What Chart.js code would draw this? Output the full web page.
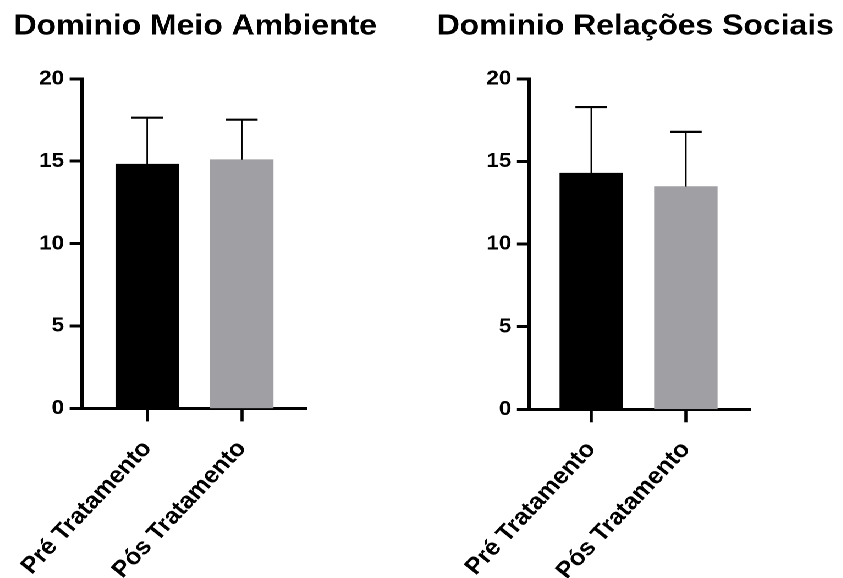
<!DOCTYPE html>
<html>
<head>
<meta charset="utf-8">
<script src="https://cdn.jsdelivr.net/npm/chart.js@4.4.1/dist/chart.umd.min.js"></script>
<style>
  html, body { margin: 0; padding: 0; background: #fff; overflow: hidden; }
  #stage { position: absolute; left: 0; top: 0; width: 766px; height: 578px;
           transform: scaleX(1.1); transform-origin: 0 0; }
  #stage canvas { position: absolute; top: 0; }
</style>
</head>
<body>
<div id="stage">
  <canvas id="meio" width="355" height="578" style="left:0px"></canvas>
  <canvas id="relacoes" width="377" height="578" style="left:389px"></canvas>
</div>
<script>
// Group labels and scores (mean and standard deviation) per domain
const categories = ['Pré Tratamento', 'Pós Tratamento'];
const meioAmbienteMean = [14.82, 15.09];
const meioAmbienteSD = [2.82, 2.43];
const relacoesSociaisMean = [14.29, 13.48];
const relacoesSociaisSD = [4.00, 3.31];
const yTickValues = [0, 5, 10, 15, 20];
const barColors = ['#000000', '#a0a0a4'];

const FONT = "'Liberation Sans', Arial, Helvetica, sans-serif";

// Upper error bars (mean + SD) drawn through the chart's own y scale
const errorBars = {
  id: 'errorBars',
  afterDatasetsDraw(chart, args, opts) {
    const ctx = chart.ctx;
    const yScale = chart.scales.y;
    const meta = chart.getDatasetMeta(0);
    const values = chart.data.datasets[0].data;
    ctx.save();
    ctx.strokeStyle = '#000';
    meta.data.forEach((bar, i) => {
      const top = yScale.getPixelForValue(values[i].y + opts.sd[i]);
      ctx.lineWidth = 1.4;
      ctx.beginPath();
      ctx.moveTo(bar.x, bar.y);
      ctx.lineTo(bar.x, top);
      ctx.stroke();
      ctx.lineWidth = 2.2;
      ctx.beginPath();
      ctx.moveTo(bar.x - opts.capHalf, top);
      ctx.lineTo(bar.x + opts.capHalf, top);
      ctx.stroke();
    });
    ctx.restore();
  }
};

function makeChart(id, title, means, sds, g) {
  return new Chart(document.getElementById(id), {
    type: 'bar',
    data: {
      datasets: [{
        data: means.map((m, i) => ({ x: i, y: m })),
        backgroundColor: barColors,
        borderWidth: 0,
        barThickness: 57,
        yAxisID: 'y'
      }]
    },
    options: {
      responsive: false,
      animation: false,
      devicePixelRatio: 2,
      layout: { padding: 0 },
      plugins: {
        legend: { display: false },
        tooltip: { enabled: false },
        title: {
          display: true,
          text: title,
          color: '#000',
          font: { family: FONT, size: 29, weight: 'bold', lineHeight: 1.2 },
          padding: { top: 9, bottom: 35 }
        },
        errorBars: { sd: sds, capHalf: 14.4 }
      },
      scales: {
        x: {
          type: 'linear',
          min: g.xMin,
          max: g.xMax,
          offset: false,
          z: 1,
          grid: { offset: false, drawOnChartArea: false, drawTicks: true,
                  tickLength: 13, tickWidth: 2.8, tickColor: '#000' },
          border: { display: true, color: '#000', width: 3 },
          afterBuildTicks: s => { s.ticks = categories.map((c, i) => ({ value: i })); },
          afterFit: s => {
            s.height = 578 - g.bottom;
            s.paddingLeft = 0;
            s.paddingRight = 0;
          },
          ticks: {
            autoSkip: false,
            maxRotation: 49,
            minRotation: 49,
            padding: 14,
            color: '#000',
            font: { family: FONT, size: 23, weight: 'bold' },
            callback: v => categories[Math.round(v)]
          }
        },
        y: {
          min: 0,
          max: 20,
          z: 1,
          grid: { drawOnChartArea: false, drawTicks: true,
                  tickLength: 11, tickWidth: 3, tickColor: '#000' },
          border: { display: true, color: '#000', width: 3 },
          afterBuildTicks: s => { s.ticks = yTickValues.map(v => ({ value: v })); },
          afterFit: s => { s.width = g.axisLeft; },
          ticks: {
            padding: 5,
            color: '#000',
            font: { family: FONT, size: 20.5, weight: 'bold' }
          }
        },
        // empty right-hand axis that only reserves the blank space right of the plot
        spacer: {
          type: 'linear',
          position: 'right',
          display: true,
          grid: { display: false, drawTicks: false },
          border: { display: false },
          ticks: { display: false },
          afterFit: s => { s.width = g.rightSpace; }
        }
      }
    },
    plugins: [errorBars]
  });
}

makeChart('meio', 'Dominio Meio Ambiente', meioAmbienteMean, meioAmbienteSD,
  { axisLeft: 74.3, rightSpace: 75.9, xMin: -0.692, xMax: 1.69, bottom: 408.4 });
makeChart('relacoes', 'Dominio Relações Sociais', relacoesSociaisMean, relacoesSociaisSD,
  { axisLeft: 91.9, rightSpace: 84.2, xMin: -0.658, xMax: 1.678, bottom: 409.3 });
</script>
</body>
</html>
